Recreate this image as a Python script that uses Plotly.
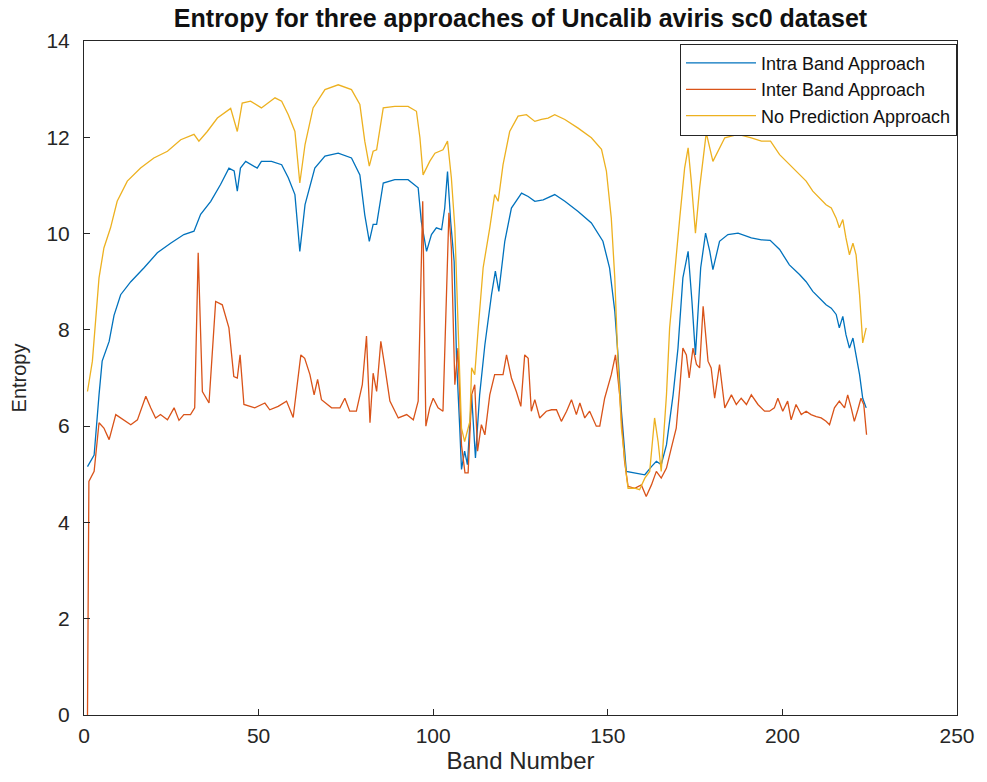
import plotly.graph_objects as go

# ---- data ----
intra_x = [1, 2.9, 4.3, 5.2, 7.2, 8.6, 10.5, 13.4, 17.2, 21, 24.8, 28.6, 31.5, 33.4, 36.3, 39.1, 41.5, 43, 43.9, 44.8,
           46.3, 49.6, 50.8, 53.7, 56.6, 58.5, 60.4, 61.8, 63.3, 66.1, 69, 72.8, 76.6, 79, 80.4, 81.7, 82.8, 83.8,
           85.7, 89, 92.8, 95.7, 96.6, 98.1, 99.5, 100.9, 102.4, 103.3, 104.1, 105.0, 106, 106.7, 107.6, 108.1, 109,
           109.8, 111, 112.1, 113.3, 114.8, 116.7, 117.8, 118.8, 120.5, 122.4, 125.3, 127.2, 129.1, 131.5, 134.8,
           137.7, 141.5, 145.3, 148.6, 150.5, 152, 152.9, 153.9, 155.3, 157.7, 160.6, 162.5, 163.9, 165.3, 166.8,
           168.7, 170.1, 171.5, 173, 174.1, 175.1, 176.6, 178, 179.2, 180.1, 182, 184.4, 187.3, 191.1, 194, 196.5,
           199.2, 202, 204.9, 206.8, 208.7, 210.6, 212.5, 214, 215.4, 216.3, 217.3, 218.2, 219.2, 220.2, 221.1,
           222.1, 223, 224]
intra_y = [5.16, 5.4, 6.65, 7.35, 7.76, 8.3, 8.73, 9.0, 9.29, 9.6, 9.8, 9.98, 10.05, 10.4, 10.67, 11.02, 11.36, 11.3, 10.88, 11.36,
           11.5, 11.36, 11.5, 11.5, 11.43, 11.16, 10.81, 9.63, 10.6, 11.36, 11.61, 11.67, 11.57, 11.22, 10.39, 9.84, 10.19, 10.19,
           11.05, 11.12, 11.12, 10.95, 10.25, 9.63, 9.98, 10.12, 10.08, 10.53, 11.29, 10.25, 9.42, 7.35, 5.96, 5.1, 5.48,
           5.2, 6.65, 5.34, 6.65, 7.69, 8.73, 9.22, 8.8, 9.84, 10.53, 10.84, 10.77, 10.67, 10.7, 10.81,
           10.67, 10.46, 10.22, 9.84, 9.29, 8.39, 7.49, 6.31, 5.06, 5.03, 4.99, 5.16, 5.27, 5.2, 5.61,
           6.65, 7.62, 9.08, 9.63, 8.59, 7.48, 9.29, 10.01, 9.63, 9.25, 9.84, 9.98, 10.01, 9.91, 9.87, 9.86,
           9.67, 9.35, 9.15, 9.0, 8.8, 8.66, 8.52, 8.45, 8.32, 8.04, 8.28, 7.9, 7.62, 7.83, 7.48,
           7.07, 6.58, 6.38]

inter_x = [1, 1.4, 2.9, 4.3, 5.7, 7.2, 9.1, 10.5, 13.4, 15.3, 17.7, 19.1, 20.5, 21.9, 23.9, 25.8, 27.2, 28.6, 30.5, 31.7,
           32.7, 33.9, 35.8, 37.7, 39.6, 41.5, 42.9, 43.9, 44.7, 45.8, 48.9, 51.8, 53.2, 55.6, 58, 59.9, 61.2, 62.1,
           63.2, 64.7, 65.9, 66.9, 68, 70.9, 73.3, 74.7, 76.1, 78, 79.7, 80.9, 81.9, 82.8, 83.8, 85, 86.2, 87.6, 90,
           92.4, 94.3, 95.7, 97, 97.9, 99, 100, 101.4, 102.8, 103.8, 104.5, 105.2, 106.2, 107.1, 108.1, 109.1, 110,
           111, 111.9, 112.7, 113.8, 114.8, 116.2, 117.6, 120, 121, 122.4, 123.8, 125.1, 126.2, 127.2, 128.1, 129.1,
           130.5, 132.4, 133.9, 135.3, 136.7, 138.2, 139.6, 141, 142, 143.4, 144.8, 146.7, 147.7, 149.1, 151, 152.2,
           153.4, 154.8, 155.8, 157.7, 159.6, 161, 162.5, 163.9, 165.3, 166.8, 168.2, 169.6, 170.6, 171.5, 172.5,
           173.3, 174.4, 175.4, 176.3, 177.3, 178.7, 179.6, 180.6, 182, 183.5, 185.4, 186.8, 188.2, 189.7, 191.1,
           193, 194.9, 196.3, 197.7, 198.7, 200.1, 201.5, 202.5, 203.9, 205.4, 206.8, 208.2, 209.7, 211.1, 212.5,
           213.5, 214.9, 216.3, 217.8, 218.7, 219.7, 220.6, 221.6, 222.5, 223.3, 224.1]
inter_y = [0.0, 4.85, 5.06, 6.07, 5.96, 5.72, 6.24, 6.17, 6.03, 6.13, 6.62, 6.38, 6.17, 6.24, 6.13, 6.38, 6.12, 6.24, 6.24, 6.38,
           9.6, 6.72, 6.48, 8.59, 8.52, 8.04, 7.03, 7.0, 7.48, 6.45, 6.38, 6.48, 6.34, 6.41, 6.52, 6.18, 6.93, 7.48,
           7.41, 7.07, 6.65, 6.97, 6.55, 6.38, 6.38, 6.58, 6.31, 6.31, 6.86, 7.87, 6.07, 7.1, 6.72, 7.76, 7.21, 6.52, 6.17,
           6.24, 6.13, 6.52, 10.67, 6.0, 6.38, 6.58, 6.38, 6.31, 8.73, 10.43, 9.7, 6.86, 7.62, 5.61, 5.03, 5.03,
           6.65, 6.86, 5.48, 6.03, 5.82, 6.65, 7.07, 7.07, 7.48, 7.0, 6.72, 6.41, 7.48, 7.41, 6.31, 6.55,
           6.17, 6.31, 6.34, 6.34, 6.1, 6.31, 6.55, 6.24, 6.48, 6.17, 6.31, 6.0, 6.0, 6.58, 7.07, 7.48,
           6.65, 5.27, 4.75, 4.71, 4.78, 4.54, 4.78, 5.06, 4.92, 5.13, 5.55, 5.96, 6.79, 7.62, 7.48,
           7.0, 7.62, 7.28, 7.21, 8.49, 7.35, 7.21, 6.58, 7.28, 6.38, 6.65, 6.45, 6.58, 6.45, 6.65,
           6.45, 6.31, 6.31, 6.38, 6.58, 6.31, 6.52, 6.13, 6.45, 6.24, 6.31, 6.24, 6.2, 6.17, 6.1,
           6.03, 6.38, 6.52, 6.38, 6.65, 6.38, 6.1, 6.34, 6.58, 6.45, 5.82]

nopred_x = [1, 2.4, 4.3, 5.7, 7.6, 9.5, 12.4, 16.2, 20, 23.9, 27.7, 31.5, 32.9, 35.3, 38.2, 42, 43.9, 45.3, 47.7, 50.8,
            54.7, 56.6, 58.5, 60.4, 61.8, 63.3, 65.6, 69, 72.8, 76.6, 79, 80.4, 81.7, 82.8, 83.8, 85.7, 89, 92.8, 95.2,
            96.2, 97.1, 99, 100.5, 101.9, 102.8, 104.1, 105.2, 106.2, 107.1, 108.1, 109, 110.5, 111, 111.9, 112.9,
            114.3, 116.2, 117.6, 118.6, 120, 121.9, 124.3, 126.7, 129.1, 131, 132.9, 134.8, 137.7, 141.5, 145.3,
            148.2, 149.6, 151, 152, 152.9, 153.9, 155.3, 155.8, 157.7, 159.1, 160.6, 162, 163.4, 164.4, 165.3,
            166.8, 167.7, 169.2, 170.6, 172, 173, 173.9, 175.1, 176.3, 178.2, 180.1, 181.6, 183.5, 187.3, 191.1,
            194, 196.6, 199.2, 202, 204.9, 206.8, 208.7, 210.6, 212.5, 214, 215.4, 216.3, 217.3, 218.2, 219.2,
            220.2, 221.1, 222.1, 223, 224]
nopred_y = [6.72, 7.35, 9.08, 9.7, 10.12, 10.67, 11.09, 11.36, 11.57, 11.71, 11.95, 12.06, 11.92, 12.12, 12.4, 12.6, 12.12, 12.71, 12.75, 12.61,
            12.82, 12.75, 12.47, 12.12, 11.05, 11.85, 12.61, 12.99, 13.09, 12.99, 12.68, 11.92, 11.4, 11.71, 11.74, 12.61, 12.64, 12.64, 12.54,
            11.99, 11.22, 11.5, 11.67, 11.71, 11.74, 11.92, 11.16, 10.12, 8.04, 5.96, 5.68, 6.1, 7.21, 7.07, 8.04,
            9.29, 10.12, 10.81, 10.67, 11.43, 12.12, 12.44, 12.47, 12.33, 12.37, 12.4, 12.47, 12.37, 12.19, 11.99,
            11.75, 11.3, 10.32, 9.08, 7.35, 5.96, 4.99, 4.71, 4.71, 4.68, 4.92, 5.06, 6.17, 5.68, 5.06,
            6.65, 8.04, 9.29, 10.32, 11.36, 11.78, 11.09, 10.01, 10.95, 12.09, 11.5, 11.71, 11.99, 12.06, 11.99,
            11.92, 11.92, 11.64, 11.43, 11.22, 11.09, 10.88, 10.74, 10.6, 10.53, 10.32, 10.12, 10.29, 9.91, 9.56,
            9.8, 9.56, 8.73, 7.73, 8.04]

series_names = ["Intra Band Approach", "Inter Band Approach", "No Prediction Approach"]
series_colors = ["#0072BD", "#D95319", "#EDB120"]

x_ticks = [0, 50, 100, 150, 200, 250]
y_ticks = [0, 2, 4, 6, 8, 10, 12, 14]

FONT = "Liberation Sans, Arial, sans-serif"
AXC = "#262626"

fig = go.Figure()
for name, xs, ys, col in zip(series_names,
                             [intra_x, inter_x, nopred_x],
                             [intra_y, inter_y, nopred_y],
                             series_colors):
    fig.add_trace(go.Scatter(x=xs, y=ys, mode="lines", name=name,
                             line=dict(color=col, width=1.3)))

fig.update_layout(
    width=987, height=782,
    margin=dict(l=84, r=30, t=41, b=67),
    paper_bgcolor="white", plot_bgcolor="white",
    font=dict(family=FONT, color=AXC),
    title=dict(text="<b>Entropy for three approaches of Uncalib aviris sc0 dataset</b>",
               x=(84 + 957) / 2 / 987, xanchor="center",
               y=1 - 18 / 782, yanchor="middle", yref="container",
               font=dict(size=25, color="#111111")),
    showlegend=True,
    legend=dict(x=1, y=0.996, xanchor="right", yanchor="top",
                bgcolor="white", bordercolor=AXC, borderwidth=1,
                font=dict(size=18, color="#111111"),
                itemwidth=70, tracegroupgap=0),
)

fig.update_xaxes(range=[0, 250], tickvals=x_ticks, ticks="inside", ticklen=6,
                 tickcolor=AXC, showline=True, linecolor=AXC, linewidth=1, mirror=True,
                 showgrid=False, zeroline=False, tickfont=dict(size=21, color=AXC),
                 ticklabelstandoff=2,
                 title=dict(text="Band Number", font=dict(size=24, color=AXC), standoff=4))
fig.update_yaxes(range=[0, 14], tickvals=y_ticks, ticks="inside", ticklen=6,
                 tickcolor=AXC, showline=True, linecolor=AXC, linewidth=1, mirror=True,
                 showgrid=False, zeroline=False, tickfont=dict(size=21, color=AXC),
                 ticklabelstandoff=9,
                 title=dict(text="Entropy", font=dict(size=20, color=AXC), standoff=14))

fig.write_html("out.html")
